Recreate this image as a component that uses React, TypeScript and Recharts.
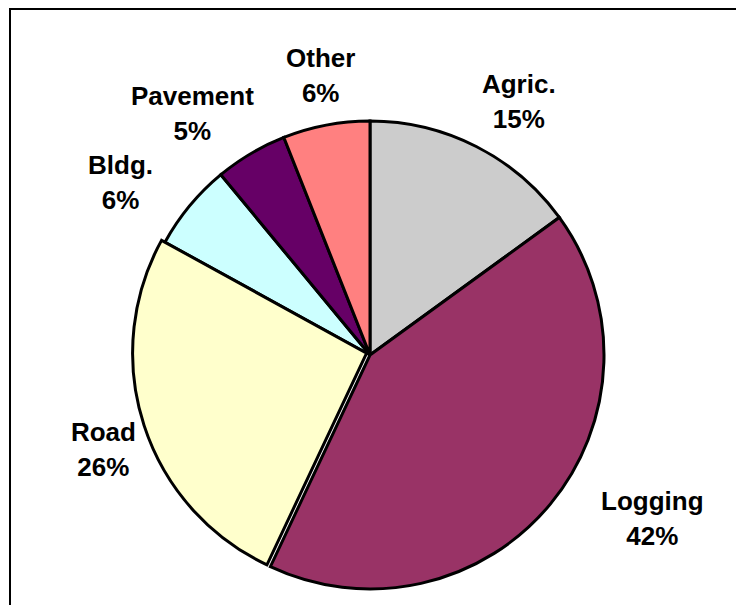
import React from 'react';
import { PieChart, Pie, Cell } from 'recharts';

const categories = ['Agric.', 'Logging', 'Road', 'Bldg.', 'Pavement', 'Other'];
const shares = [15, 42, 26, 6, 5, 6];
const colors = ['#CCCCCC', '#993366', '#FFFFCC', '#CCFFFF', '#660066', '#FF8080'];
const explodedCategory = 'Road';

const data = categories.map((name, i) => ({ name, value: shares[i] }));

// label layout: distance from centre and angular nudge (degrees, ccw) per label
const LABEL_LAYOUT = [
  { r: 294, d: -3.4 },
  { r: 326, d: 9.6 },
  { r: 283, d: 1.6 },
  { r: 303, d: 5 },
  { r: 300, d: 5.7 },
  { r: 284, d: -0.8 },
];

const CX = 357;
const CY = 342;
const R = 234;
const RAD = Math.PI / 180;

const renderLabel = (props: any) => {
  const { cx, cy, midAngle, index } = props;
  const lay = LABEL_LAYOUT[index];
  const a = (midAngle + lay.d) * RAD;
  const x = cx + lay.r * Math.cos(a);
  const y = cy - lay.r * Math.sin(a);
  return (
    <text
      x={x}
      y={y}
      textAnchor="middle"
      fill="#000"
      style={{ fontFamily: '"Liberation Sans", Arial, sans-serif', fontWeight: 'bold', fontSize: 26 }}
    >
      <tspan x={x} y={y - 17.5} dominantBaseline="central">{categories[index]}</tspan>
      <tspan x={x} y={y + 17.5} dominantBaseline="central">{`${shares[index]}%`}</tspan>
    </text>
  );
};

export default function App() {
  return (
    <div style={{ position: 'relative', width: 728, height: 597, overflow: 'hidden', background: '#fff' }}>
      <div
        style={{
          position: 'absolute',
          left: 1,
          top: 0,
          width: 900,
          height: 900,
          borderTop: '2px solid #000',
          borderLeft: '2px solid #000',
        }}
      />
      <div style={{ position: 'absolute', left: 0, top: 0 }}>
        <PieChart width={728} height={597}>
          <Pie
            data={data}
            dataKey="value"
            nameKey="name"
            cx={CX}
            cy={CY}
            outerRadius={R}
            startAngle={90}
            endAngle={-270}
            isAnimationActive={false}
            label={renderLabel}
            labelLine={false}
          >
            {data.map((d, i) => (
              <Cell
                key={d.name}
                fill={d.name === explodedCategory ? 'none' : colors[i]}
                stroke={d.name === explodedCategory ? 'none' : '#000'}
                strokeWidth={3}
              />
            ))}
          </Pie>
          <Pie
            data={data}
            dataKey="value"
            nameKey="name"
            cx={CX - 3.4}
            cy={CY - 1.9}
            outerRadius={R}
            startAngle={90}
            endAngle={-270}
            isAnimationActive={false}
            label={false}
            labelLine={false}
          >
            {data.map((d, i) => (
              <Cell
                key={d.name}
                fill={d.name === explodedCategory ? colors[i] : 'none'}
                stroke={d.name === explodedCategory ? '#000' : 'none'}
                strokeWidth={3}
              />
            ))}
          </Pie>
        </PieChart>
      </div>
    </div>
  );
}
